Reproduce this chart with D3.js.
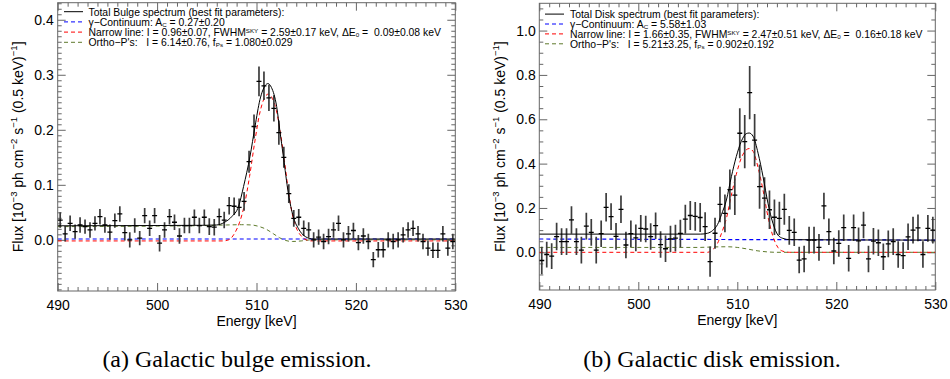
<!DOCTYPE html>
<html><head><meta charset="utf-8">
<script src="https://cdn.jsdelivr.net/npm/d3@7"></script>
<style>
body{margin:0;background:#fff}
svg{display:block}
text{font-family:"Liberation Sans",Arial,Helvetica,sans-serif}
text.caption{font-family:"Liberation Serif","Times New Roman",serif}
</style>
</head><body>
<svg id="c" width="950" height="379"></svg>
<script>
// ---------------- DATA ----------------
const energyBins = [
490.25,490.75,491.25,491.75,492.25,492.75,493.25,493.75,494.25,494.75,
495.25,495.75,496.25,496.75,497.25,497.75,498.25,498.75,499.25,499.75,
500.25,500.75,501.25,501.75,502.25,502.75,503.25,503.75,504.25,504.75,
505.25,505.75,506.25,506.75,507.25,507.75,508.25,508.75,509.25,509.75,
510.25,510.75,511.25,511.75,512.25,512.75,513.25,513.75,514.25,514.75,
515.25,515.75,516.25,516.75,517.25,517.75,518.25,518.75,519.25,519.75,
520.25,520.75,521.25,521.75,522.25,522.75,523.25,523.75,524.25,524.75,
525.25,525.75,526.25,526.75,527.25,527.75,528.25,528.75,529.25,529.75];
const binHalfWidth = 0.25;

const xTicks = [490, 500, 510, 520, 530];
const bulgeYTicks = [0.0, 0.1, 0.2, 0.3, 0.4];
const diskYTicks = [0.0, 0.2, 0.4, 0.6, 0.8, 1.0];

// Bulge spectrum (flux, 1-sigma error)
const bulgeFlux = [
0.036,0.011,0.030,0.015,0.027,0.024,0.018,0.030,0.042,0.027,
0.014,0.035,0.047,0.013,0.000,0.026,0.003,0.044,0.021,0.044,
-0.006,0.018,0.042,0.032,0.007,0.026,0.026,0.041,0.026,0.041,
0.024,0.023,0.042,0.036,0.062,0.061,0.059,0.070,0.142,0.206,
0.288,0.280,0.258,0.239,0.195,0.150,0.084,0.039,0.041,0.021,
0.018,0.000,0.005,-0.003,0.006,0.018,0.030,0.000,0.011,0.017,
-0.005,0.007,-0.003,-0.036,-0.018,-0.018,0.000,-0.003,0.000,0.009,
0.018,0.021,0.011,-0.003,-0.015,-0.019,-0.019,0.011,-0.015,-0.003];
const bulgeErr = [
0.014,0.014,0.014,0.013,0.014,0.013,0.014,0.013,0.014,0.014,
0.014,0.013,0.014,0.014,0.014,0.013,0.013,0.014,0.014,0.014,
0.015,0.014,0.014,0.014,0.014,0.014,0.014,0.014,0.014,0.014,
0.015,0.015,0.015,0.015,0.016,0.016,0.016,0.017,0.020,0.022,
0.027,0.026,0.024,0.024,0.022,0.019,0.017,0.015,0.015,0.014,
0.014,0.014,0.014,0.014,0.014,0.014,0.014,0.014,0.014,0.014,
0.014,0.014,0.014,0.014,0.014,0.014,0.014,0.014,0.014,0.014,
0.014,0.014,0.014,0.014,0.014,0.014,0.014,0.014,0.014,0.014];

// Bulge best-fit model curves [energy, flux]
const bulgeTotal = [[490,0.0255],[500,0.026],[505,0.0265],[506,0.027],[506.8,0.032],[507.5,0.042],[508.2,0.061],[508.7,0.097],[509.35,0.152],[509.85,0.206],[510.35,0.255],[510.86,0.28],[511.15,0.284],[511.5,0.277],[512.03,0.242],[512.36,0.197],[512.7,0.152],[513.2,0.085],[513.7,0.042],[514.2,0.021],[514.9,0.006],[515.7,0.0015],[530,0.0015]];
const bulgeContinuum = [[490,0.0015],[530,0.0015]];
const bulgeNarrow = [[490,-0.002],[506.6,-0.002],[507.2,0.0],[507.8,0.012],[508.3,0.032],[508.8,0.065],[509.3,0.115],[509.8,0.175],[510.3,0.228],[510.8,0.258],[511.2,0.265],[511.6,0.257],[512.0,0.235],[512.4,0.195],[512.8,0.145],[513.2,0.09],[513.6,0.047],[514.0,0.022],[514.5,0.007],[515.0,0.0],[515.6,-0.002],[530,-0.002]];
const bulgeOrthoPs = [[490,0.024],[500,0.025],[505,0.026],[507,0.027],[508.5,0.0275],[509.5,0.027],[510.3,0.024],[511,0.019],[511.7,0.011],[512.3,0.004],[512.9,-0.001],[513.6,-0.003],[514.5,-0.002],[515.5,0.0],[530,0.0]];

// Disk spectrum
const diskFlux = [
-0.037,-0.010,-0.017,0.071,0.048,0.048,0.146,0.048,0.010,0.118,
0.090,0.010,0.084,0.203,0.161,0.072,0.194,0.033,0.084,0.065,
0.108,0.105,0.071,0.120,0.035,0.016,0.060,0.064,0.085,0.150,
0.166,0.162,0.157,0.116,-0.042,0.086,0.216,0.176,0.283,0.258,
0.537,0.499,0.720,0.506,0.296,0.244,0.192,0.158,0.153,0.194,
0.099,0.090,-0.035,-0.030,0.055,0.055,0.022,0.209,0.093,0.006,
0.040,0.111,-0.027,0.111,0.052,0.123,-0.030,0.050,0.043,-0.020,
0.038,0.048,-0.010,-0.015,0.070,0.100,0.110,-0.010,0.108,0.100];
const diskErr = [
0.062,0.058,0.058,0.062,0.060,0.060,0.062,0.060,0.060,0.060,
0.060,0.060,0.060,0.064,0.060,0.060,0.062,0.060,0.060,0.060,
0.060,0.060,0.060,0.060,0.060,0.060,0.060,0.060,0.062,0.065,
0.065,0.065,0.065,0.065,0.068,0.070,0.080,0.085,0.090,0.090,
0.113,0.120,0.120,0.118,0.100,0.094,0.087,0.080,0.075,0.070,
0.065,0.062,0.060,0.060,0.060,0.060,0.060,0.060,0.060,0.060,
0.060,0.060,0.060,0.060,0.060,0.060,0.060,0.060,0.060,0.060,
0.060,0.060,0.060,0.060,0.060,0.060,0.060,0.060,0.060,0.060];

const diskTotal = [[490,0.082],[506.3,0.082],[507,0.086],[507.5,0.098],[508,0.125],[508.4,0.17],[508.9,0.236],[509.4,0.341],[509.9,0.432],[510.4,0.5],[510.9,0.535],[511.2,0.538],[511.6,0.523],[512.1,0.447],[512.6,0.341],[513.1,0.221],[513.6,0.131],[514.1,0.078],[514.6,0.063],[515.3,0.057],[530,0.055]];
const diskContinuum = [[490,0.060],[530,0.055]];
const diskNarrow = [[490,0],[507,0],[507.5,0.012],[508,0.04],[508.4,0.085],[508.9,0.153],[509.4,0.258],[509.9,0.352],[510.4,0.425],[510.9,0.462],[511.2,0.468],[511.6,0.455],[512.1,0.382],[512.6,0.28],[513.1,0.16],[513.6,0.072],[514.1,0.022],[514.6,0.005],[515.3,0],[530,0]];
const diskOrthoPs = [[490,0.022],[506,0.022],[507.5,0.024],[509,0.025],[510,0.022],[511,0.015],[512,0.007],[513,0.002],[514,0.0],[530,0.0]];

// Legend texts: segments with optional sub/sup
const bulgeLegend = [
 [{t:"Total Bulge spectrum (best fit parameters):"}],
 [{t:"\u03b3\u2212Continuum: A"},{t:"C",sub:1},{t:" = 0.27\u00b10.20"}],
 [{t:"Narrow line: I = 0.96\u00b10.07, FWHM"},{t:"SKY",sup:1},{t:" = 2.59\u00b10.17 keV, \u0394E"},{t:"0",sub:1},{t:" =  0.09\u00b10.08 keV"}],
 [{t:"Ortho\u2212P's:   I = 6.14\u00b10.76, f"},{t:"Ps",sub:1},{t:" = 1.080\u00b10.029"}]
];
const diskLegend = [
 [{t:"Total Disk spectrum (best fit parameters):"}],
 [{t:"\u03b3\u2212Continuum: A"},{t:"C",sub:1},{t:" = 5.58\u00b11.03"}],
 [{t:"Narrow line: I = 1.66\u00b10.35, FWHM"},{t:"SKY",sup:1},{t:" = 2.47\u00b10.51 keV, \u0394E"},{t:"0",sub:1},{t:" =  0.16\u00b10.18 keV"}],
 [{t:"Ortho\u2212P's:   I = 5.21\u00b13.25, f"},{t:"Ps",sub:1},{t:" = 0.902\u00b10.192"}]
];
const yLabel = [{t:"Flux [10"},{t:"\u22123",sup:1},{t:" ph cm"},{t:"\u22122",sup:1},{t:" s"},{t:"\u22121",sup:1},{t:" (0.5 keV)"},{t:"\u22121",sup:1},{t:"]"}];
const xLabel = "Energy [keV]";
const captions = ["(a) Galactic bulge emission.", "(b) Galactic disk emission."];

// ---------------- DRAWING ----------------
const svg = d3.select("#c");
const lineColors = ["#000000", "#0000ff", "#ff0000", "#5e7a2c"];
const lineDash = [null, "4,3", "4,3", "4,3"];

function richText(sel, segs, fs, subShift, supShift, supScale) {
  let shift = 0;
  segs.forEach(s => {
    const ts = sel.append("tspan").text(s.t);
    let target = s.sub ? fs*subShift : s.sup ? -fs*supShift : 0;
    ts.attr("dy", (target - shift).toFixed(2));
    shift = target;
    if (s.sub || s.sup) ts.attr("font-size", (fs*supScale).toFixed(2));
  });
}

function panel(cfg) {
  const g = svg.append("g");
  const x = d3.scaleLinear().domain([490, 530]).range([cfg.x0, cfg.x1]);
  const y = d3.scaleLinear().domain(cfg.yDomain).range([cfg.yBot, cfg.yTop]);
  const tickCol = "#666";

  const clipId = "clip" + cfg.id;
  svg.append("clipPath").attr("id", clipId).append("rect")
    .attr("x", cfg.x0).attr("y", cfg.yTop).attr("width", cfg.x1 - cfg.x0).attr("height", cfg.yBot - cfg.yTop);

  // minor ticks
  const minorX = d3.range(491, 530, 1).filter(v => !xTicks.includes(v));
  const minorY = d3.range(Math.ceil(cfg.yDomain[0]/cfg.minorStep), Math.floor(cfg.yDomain[1]/cfg.minorStep)+1)
       .map(i => +(i*cfg.minorStep).toFixed(4)).filter(v => !cfg.yTicks.some(t => Math.abs(t-v) < 1e-6));
  const clean = a => a.call(s => s.select(".domain").remove()).call(s => s.selectAll("line").attr("stroke", tickCol).attr("stroke-width", 1));

  g.append("g").attr("transform", `translate(0,${cfg.yBot})`).call(d3.axisBottom(x).tickValues(minorX).tickSize(-4).tickFormat("")).call(clean);
  g.append("g").attr("transform", `translate(0,${cfg.yTop})`).call(d3.axisTop(x).tickValues(minorX).tickSize(-4).tickFormat("")).call(clean);
  g.append("g").attr("transform", `translate(${cfg.x0},0)`).call(d3.axisLeft(y).tickValues(minorY).tickSize(-4).tickFormat("")).call(clean);
  g.append("g").attr("transform", `translate(${cfg.x1},0)`).call(d3.axisRight(y).tickValues(minorY).tickSize(-4).tickFormat("")).call(clean);

  // major ticks
  const bx = g.append("g").attr("transform", `translate(0,${cfg.yBot})`)
    .call(d3.axisBottom(x).tickValues(xTicks).tickSize(-8).tickPadding(cfg.xPad).tickFormat(d3.format("d"))).call(clean);
  g.append("g").attr("transform", `translate(0,${cfg.yTop})`).call(d3.axisTop(x).tickValues(xTicks).tickSize(-8).tickFormat("")).call(clean);
  const ly = g.append("g").attr("transform", `translate(${cfg.x0},0)`)
    .call(d3.axisLeft(y).tickValues(cfg.yTicks).tickSize(-8).tickPadding(cfg.yPad).tickFormat(d3.format(".1f"))).call(clean);
  g.append("g").attr("transform", `translate(${cfg.x1},0)`).call(d3.axisRight(y).tickValues(cfg.yTicks).tickSize(-8).tickFormat("")).call(clean);
  [bx, ly].forEach(a => a.selectAll("text").attr("font-size", 14).attr("fill", "#000").attr("font-family", null));

  // frame
  g.append("rect").attr("x", cfg.x0).attr("y", cfg.yTop).attr("width", cfg.x1 - cfg.x0).attr("height", cfg.yBot - cfg.yTop)
    .attr("fill", "none").attr("stroke", tickCol).attr("stroke-width", 1);

  // model curves
  const plot = g.append("g").attr("clip-path", `url(#${clipId})`);
  const line = d3.line().x(d => x(d[0])).y(d => y(d[1])).curve(d3.curveMonotoneX);
  const models = [cfg.orthoPs, cfg.continuum, cfg.narrow];
  const modelIdx = [3, 1, 2];
  models.forEach((m, i) => {
    plot.append("path").attr("d", line(m)).attr("fill", "none")
      .attr("stroke", lineColors[modelIdx[i]]).attr("stroke-width", modelIdx[i] === 1 ? 1.2 : 1)
      .attr("stroke-dasharray", lineDash[modelIdx[i]]);
  });

  // data points with error bars
  const pts = plot.append("g");
  energyBins.forEach((e, i) => {
    const v = cfg.flux[i], er = cfg.err[i];
    pts.append("line").attr("x1", x(e)).attr("x2", x(e)).attr("y1", y(v - er)).attr("y2", y(v + er))
      .attr("stroke", "#3c3c3c").attr("stroke-width", 1.7);
    pts.append("line").attr("x1", x(e - binHalfWidth)).attr("x2", x(e + binHalfWidth)).attr("y1", y(v)).attr("y2", y(v))
      .attr("stroke", "#000").attr("stroke-width", 1.3);
  });

  plot.append("path").attr("d", line(cfg.total)).attr("fill", "none").attr("stroke", "#000").attr("stroke-width", 1);

  // legend
  const lg = g.append("g");
  cfg.legend.forEach((segs, i) => {
    const ry = cfg.legRows[i];
    lg.append("line").attr("x1", cfg.legX0).attr("x2", cfg.legX1).attr("y1", ry).attr("y2", ry)
      .attr("stroke", lineColors[i]).attr("stroke-width", 1).attr("stroke-dasharray", lineDash[i]);
    const t = lg.append("text").attr("x", cfg.legTx).attr("y", ry + 3.8).attr("font-size", 10.4)
      .attr("fill", "#000").style("white-space", "pre");
    richText(t, segs, 10.4, 0.12, 0.3, 0.6);
  });

  // axis titles
  g.append("text").attr("x", (cfg.x0 + cfg.x1) / 2).attr("y", cfg.xTitleY).attr("text-anchor", "middle")
    .attr("font-size", 14).attr("fill", "#000").text(xLabel);
  const yt = g.append("text").attr("transform", `translate(${cfg.yTitleX},${(cfg.yTop + cfg.yBot) / 2}) rotate(-90)`)
    .attr("text-anchor", "middle").attr("font-size", 14).attr("fill", "#000");
  richText(yt, yLabel, 14, 0.3, 0.42, 0.68);

  // caption
  svg.append("text").attr("class", "caption").attr("x", cfg.capX).attr("y", 367).attr("text-anchor", "middle")
    .attr("font-size", 24).attr("fill", "#000").text(cfg.caption);
}

panel({id: "a", x0: 57.7, x1: 455.3, yTop: 2.7, yBot: 291, yDomain: [-0.093, 0.431],
  yTicks: bulgeYTicks, minorStep: 0.01, xPad: 9, yPad: 4,
  flux: bulgeFlux, err: bulgeErr, total: bulgeTotal, continuum: bulgeContinuum, narrow: bulgeNarrow, orthoPs: bulgeOrthoPs,
  legend: bulgeLegend, legRows: [11.7, 21.9, 32.1, 42.3], legX0: 64, legX1: 83, legTx: 88.5,
  xTitleY: 326, yTitleX: 23, capX: 237, caption: captions[0]});

panel({id: "b", x0: 539.3, x1: 935.3, yTop: 3.3, yBot: 290, yDomain: [-0.17, 1.123],
  yTicks: diskYTicks, minorStep: 0.05, xPad: 9, yPad: 3.5,
  flux: diskFlux, err: diskErr, total: diskTotal, continuum: diskContinuum, narrow: diskNarrow, orthoPs: diskOrthoPs,
  legend: diskLegend, legRows: [14.1, 24, 33.9, 43.8], legX0: 545, legX1: 564, legTx: 570,
  xTitleY: 325, yTitleX: 504.5, capX: 712, caption: captions[1]});
</script>
</body></html>
